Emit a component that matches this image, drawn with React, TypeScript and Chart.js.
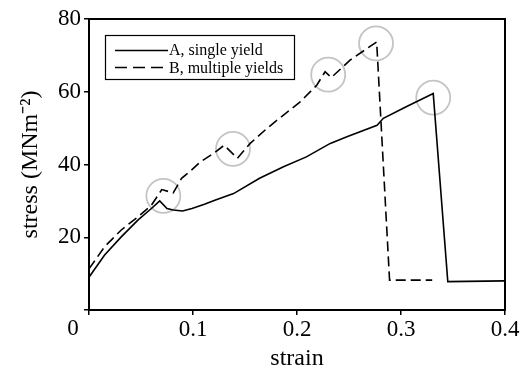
import React, { useEffect, useRef } from "react";
import { Chart, registerables } from "chart.js";

Chart.register(...registerables);

const strainA = [0, 0.015, 0.031, 0.047, 0.06, 0.068, 0.075, 0.081, 0.09, 0.099, 0.111, 0.121, 0.139, 0.164, 0.187, 0.209, 0.232, 0.248, 0.277, 0.283, 0.305, 0.331, 0.345, 0.4];
const stressA = [9.0, 15.1, 20.1, 24.7, 27.9, 30.0, 27.9, 27.5, 27.2, 27.9, 29.1, 30.2, 32.0, 36.2, 39.4, 42.1, 45.8, 47.6, 50.8, 52.7, 55.9, 59.5, 7.8, 8.0];

const strainB = [0, 0.015, 0.031, 0.047, 0.06, 0.07, 0.081, 0.089, 0.099, 0.107, 0.1195, 0.13, 0.1426, 0.155, 0.171, 0.187, 0.203, 0.219, 0.227, 0.233, 0.251, 0.2766, 0.289, 0.33];
const stressB = [11.3, 17.4, 22.0, 25.6, 28.8, 33.1, 32.2, 36.2, 38.6, 40.7, 43.0, 45.3, 41.7, 45.8, 49.9, 53.6, 57.2, 61.8, 65.5, 63.9, 68.7, 73.7, 8.2, 8.2];

const yieldStrain = [0.0715, 0.1385, 0.23, 0.276, 0.331];
const yieldStress = [31.4, 44.3, 64.7, 73.3, 58.4];

const seriesLabels = ["A, single yield", "B, multiple yields"];
const xTitle = "strain";
const yTitle = "stress (MNm\u207B\u00B2)";
const originLabel = "0";

const SERIF = "'Liberation Serif', 'Times New Roman', serif";

const framePlugin = {
  id: "frameAndLegend",
  afterDatasetsDraw(chart: any) {
    const { ctx, chartArea } = chart;
    ctx.save();
    ctx.strokeStyle = "#000";
    ctx.lineWidth = 2;
    ctx.strokeRect(chartArea.left, chartArea.top, chartArea.right - chartArea.left, chartArea.bottom - chartArea.top);

    // legend box
    ctx.lineWidth = 1.2;
    ctx.strokeRect(105.5, 35.5, 189, 44);
    ctx.lineWidth = 1.5;
    ctx.beginPath();
    ctx.setLineDash([]);
    ctx.moveTo(115, 50.5);
    ctx.lineTo(168, 50.5);
    ctx.stroke();
    ctx.beginPath();
    ctx.setLineDash([12, 6]);
    ctx.moveTo(115, 67.5);
    ctx.lineTo(168, 67.5);
    ctx.stroke();
    ctx.setLineDash([]);
    ctx.fillStyle = "#000";
    ctx.font = "16px " + SERIF;
    ctx.textAlign = "left";
    ctx.textBaseline = "alphabetic";
    ctx.fillText(seriesLabels[0], 169, 55);
    ctx.fillText(seriesLabels[1], 169, 72.5);

    // shared origin label
    ctx.font = "23px " + SERIF;
    ctx.textAlign = "center";
    ctx.textBaseline = "middle";
    ctx.fillText(originLabel, 73, 329);
    ctx.restore();
  },
};

export default function App() {
  const ref = useRef<HTMLCanvasElement>(null);
  useEffect(() => {
    if (!ref.current) return;
    const chart = new Chart(ref.current, {
      type: "line",
      data: {
        datasets: [
          {
            label: seriesLabels[0],
            data: strainA.map((x, i) => ({ x, y: stressA[i] })),
            borderColor: "#000",
            borderWidth: 1.6,
            pointRadius: 0,
            tension: 0,
            fill: false,
          },
          {
            label: seriesLabels[1],
            data: strainB.map((x, i) => ({ x, y: stressB[i] })),
            borderColor: "#000",
            borderWidth: 1.6,
            borderDash: [10, 5],
            pointRadius: 0,
            tension: 0,
            fill: false,
          },
          {
            label: "yield",
            data: yieldStrain.map((x, i) => ({ x, y: yieldStress[i] })),
            showLine: false,
            pointRadius: 17,
            pointBorderWidth: 1.8,
            pointBorderColor: "#c4c4c4",
            pointBackgroundColor: "rgba(0,0,0,0)",
            borderColor: "#c4c4c4",
            backgroundColor: "rgba(0,0,0,0)",
          },
        ],
      },
      options: {
        responsive: false,
        animation: false,
        devicePixelRatio: 1,
        layout: { padding: { left: 0, top: 19, right: 23, bottom: 0 } },
        plugins: { legend: { display: false }, tooltip: { enabled: false } },
        scales: {
          x: {
            type: "linear",
            min: 0,
            max: 0.4,
            afterFit: (s: any) => { s.height = 57; },
            grid: { drawOnChartArea: false, drawTicks: true, tickLength: 5, color: "#000", lineWidth: 1.5 },
            border: { display: true, color: "#000", width: 2 },
            ticks: {
              stepSize: 0.1,
              padding: 1,
              color: "#000",
              font: { family: SERIF, size: 23 },
              callback: (v: any) => (Number(v) === 0 ? "" : Number(v).toFixed(1)),
            },
            title: { display: true, text: xTitle, color: "#000", font: { family: SERIF, size: 24, lineHeight: 0.72 }, padding: { top: 0, bottom: 0 } },
          },
          y: {
            min: 0,
            max: 80,
            afterFit: (s: any) => { s.width = 89; },
            grid: { drawOnChartArea: false, drawTicks: true, tickLength: 5, color: "#000", lineWidth: 1.5 },
            border: { display: true, color: "#000", width: 2 },
            ticks: {
              stepSize: 20,
              padding: 3,
              color: "#000",
              font: { family: SERIF, size: 23 },
              callback: (v: any) => (Number(v) === 0 ? "" : String(v)),
            },
            title: { display: true, text: yTitle, color: "#000", font: { family: SERIF, size: 24, lineHeight: 1.2 }, padding: { top: 16, bottom: 0 } },
          },
        },
      },
      plugins: [framePlugin],
    } as any);
    return () => chart.destroy();
  }, []);
  return (
    <div style={{ position: "absolute", left: 0, top: 0, width: 528, height: 367, background: "#fff" }}>
      <canvas ref={ref} width={528} height={367} style={{ display: "block" }} />
    </div>
  );
}
